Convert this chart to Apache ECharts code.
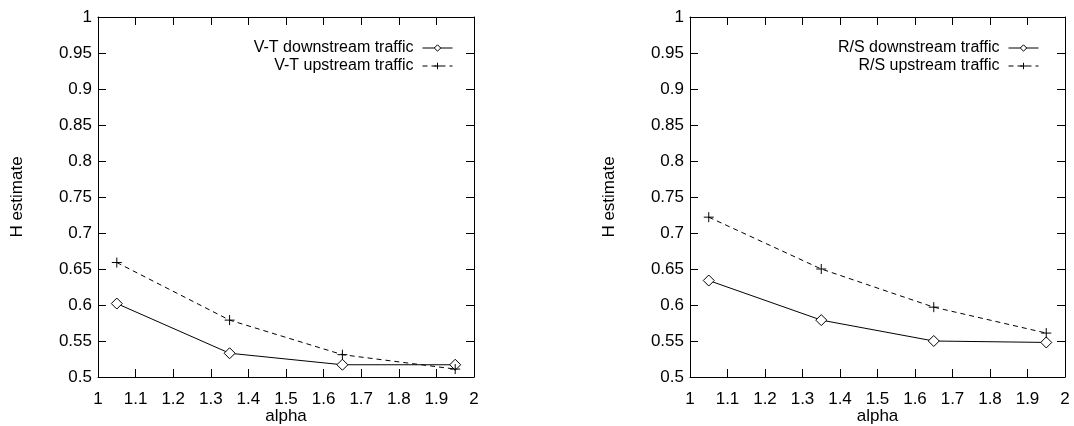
<!DOCTYPE html>
<html>
<head>
<meta charset="utf-8">
<script src="https://cdn.jsdelivr.net/npm/echarts@6/dist/echarts.min.js"></script>
<style>
  html, body { margin: 0; padding: 0; background: #fff; }
  #chart { width: 1074px; height: 426px; }
</style>
</head>
<body>
<div id="chart"></div>
<script>
// x positions of the measurements
const alpha = [1.05, 1.35, 1.65, 1.95];
// left panel (V-T)
const vtDown = [0.602, 0.533, 0.517, 0.517];
const vtUp = [0.659, 0.579, 0.531, 0.511];
// right panel (R/S)
const rsDown = [0.634, 0.579, 0.550, 0.548];
const rsUp = [0.722, 0.650, 0.597, 0.561];
// axis ranges
const xRange = [1, 2, 0.1];
const yRange = [0.5, 1, 0.05];

const FONT = 'Liberation Sans, Arial, sans-serif';
const plus = 'path://M0,5L10,5M5,0L5,10';
const diamond = 'path://M5,0L10,5L5,10L0,5Z';

const pair = (xs, ys) => xs.map((x, i) => [x, ys[i]]);

function xAxisFor(grid, pos) {
  const main = pos === 'bottom';
  return {
    type: 'value', gridIndex: grid, position: pos,
    min: xRange[0], max: xRange[1], interval: xRange[2],
    name: main ? 'alpha' : '', nameLocation: 'middle', nameGap: 31,
    nameMoveOverlap: false,
    nameTextStyle: { color: '#000', fontSize: 17, fontFamily: FONT },
    axisLine: { show: true, lineStyle: { color: '#000', width: 1 } },
    axisTick: { show: true, inside: true, length: 8, lineStyle: { color: '#000' } },
    axisLabel: { show: main, color: '#000', fontSize: 17, fontFamily: FONT, margin: 14 },
    splitLine: { show: false }
  };
}

function yAxisFor(grid, pos) {
  const main = pos === 'left';
  return {
    type: 'value', gridIndex: grid, position: pos,
    min: yRange[0], max: yRange[1], interval: yRange[2],
    name: main ? 'H estimate' : '', nameLocation: 'middle', nameGap: 72,
    nameMoveOverlap: false,
    nameTextStyle: { color: '#000', fontSize: 17, fontFamily: FONT },
    axisLine: { show: true, lineStyle: { color: '#000', width: 1 } },
    axisTick: { show: true, inside: true, length: 8, lineStyle: { color: '#000' } },
    axisLabel: { show: main, color: '#000', fontSize: 17, fontFamily: FONT, margin: 6 },
    splitLine: { show: false }
  };
}

function lineSeries(name, data, grid, dashed) {
  return {
    name: name, type: 'line', xAxisIndex: grid * 2, yAxisIndex: grid * 2,
    data: pair(alpha, data),
    symbol: dashed ? plus : diamond,
    symbolSize: dashed ? 10 : 11,
    itemStyle: dashed
      ? { color: '#000', borderColor: '#000', borderWidth: 1 }
      : { color: '#fff', borderColor: '#000', borderWidth: 1 },
    lineStyle: { color: '#000', width: 1, type: dashed ? [5, 4] : 'solid' },
    emphasis: { disabled: true },
    animation: false
  };
}

function legendFor(names, right) {
  return {
    data: names, orient: 'vertical', align: 'right',
    right: right, top: 35, itemWidth: 30, itemHeight: 8, itemGap: 2,
    lineStyle: { width: 1 },
    itemStyle: { borderWidth: 1 },
    textStyle: { color: '#000', fontSize: 16, fontFamily: FONT, padding: [0, 4, 0, 0] },
    selectedMode: false
  };
}

const chart = echarts.init(document.getElementById('chart'));
chart.setOption({
  animation: false,
  grid: [
    { left: 98, top: 17, width: 376, height: 360, outerBoundsMode: 'none' },
    { left: 690, top: 17, width: 375, height: 360, outerBoundsMode: 'none' }
  ],
  xAxis: [xAxisFor(0, 'bottom'), xAxisFor(0, 'top'), xAxisFor(1, 'bottom'), xAxisFor(1, 'top')],
  yAxis: [yAxisFor(0, 'left'), yAxisFor(0, 'right'), yAxisFor(1, 'left'), yAxisFor(1, 'right')],
  legend: [
    legendFor(['V-T downstream traffic', 'V-T upstream traffic'], 616),
    legendFor(['R/S downstream traffic', 'R/S upstream traffic'], 30)
  ],
  series: [
    lineSeries('V-T downstream traffic', vtDown, 0, false),
    lineSeries('V-T upstream traffic', vtUp, 0, true),
    lineSeries('R/S downstream traffic', rsDown, 1, false),
    lineSeries('R/S upstream traffic', rsUp, 1, true)
  ]
});
</script>
</body>
</html>
